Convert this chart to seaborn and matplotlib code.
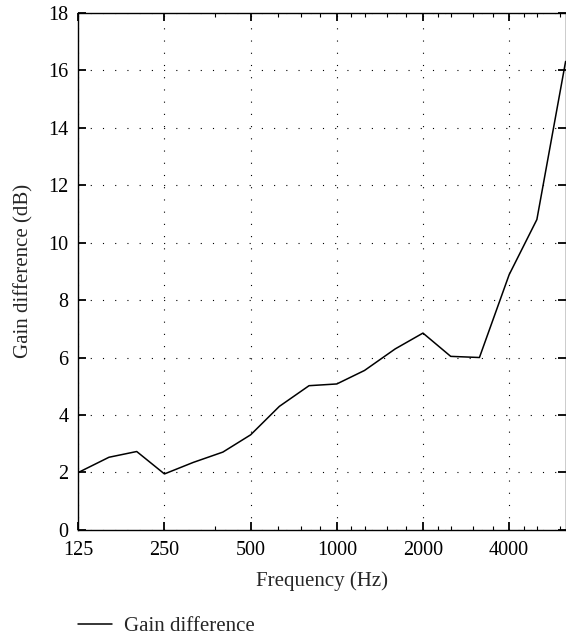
import numpy as np
import pandas as pd
import seaborn as sns
import matplotlib.pyplot as plt
from matplotlib.ticker import FixedLocator, NullFormatter

# 1/3-octave band centre frequencies and measured gain difference
freqs = [125, 160, 200, 250, 315, 400, 500, 630, 800, 1000,
         1250, 1600, 2000, 2500, 3150, 4000, 5000, 6300]
gain_diff = [2.0, 2.53, 2.73, 1.95, 2.35, 2.71, 3.31, 4.30, 5.02, 5.08,
             5.55, 6.30, 6.85, 6.04, 6.00, 8.88, 10.8, 16.3]

x_major = [125, 250, 500, 1000, 2000, 4000]
x_major_labels = ['125', '250', '500', '1000', '2000', '4000']
x_minor = [375, 625, 750, 875, 1125, 1250, 1500, 1750,
           2250, 2500, 3000, 3500, 4500, 5000, 6000]
y_major = list(range(0, 19, 2))

df = pd.DataFrame({'Frequency': freqs, 'Gain difference': gain_diff})

sns.set_style('ticks')
plt.rcParams['font.family'] = ['Liberation Serif', 'DejaVu Serif']
plt.rcParams['font.size'] = 14.5

fig = plt.figure(figsize=(5.66, 6.38), dpi=100)
ax = fig.add_axes([0.1383, 0.1693, 0.861, 0.811])

sns.lineplot(data=df, x='Frequency', y='Gain difference', color='black',
             linewidth=1.1, ax=ax, label='Gain difference', legend=False)

ax.set_xscale('log')
ax.set_xlim(125, 6300)
ax.set_ylim(0, 18)
ax.xaxis.set_major_locator(FixedLocator(x_major))
ax.set_xticklabels(x_major_labels)
ax.xaxis.set_minor_locator(FixedLocator(x_minor))
ax.xaxis.set_minor_formatter(NullFormatter())
ax.set_yticks(y_major)

ax.grid(True, which='major', color='black', linestyle=(0, (1, 10)), linewidth=0.8)
ax.tick_params(which='both', direction='in', top=True, right=True, colors='black',
               labelsize=14.5)
ax.tick_params(which='major', length=5.8, width=1.3)
ax.tick_params(which='minor', length=2.9, width=0.8)
ax.tick_params(axis='y', which='major', pad=7)
ax.tick_params(axis='x', which='major', pad=8)
for s in ax.spines.values():
    s.set_linewidth(1.0)
    s.set_color('black')

ax.set_xlabel('Frequency (Hz)', fontsize=15, labelpad=8)
ax.set_ylabel('Gain difference (dB)', fontsize=15, labelpad=11)

h, l = ax.get_legend_handles_labels()
fig.legend(h, l, loc='center left', bbox_to_anchor=(0.105, 0.018), frameon=False,
           handlelength=1.6, handletextpad=0.6, fontsize=15)

fig.savefig('out.png', dpi=100)
